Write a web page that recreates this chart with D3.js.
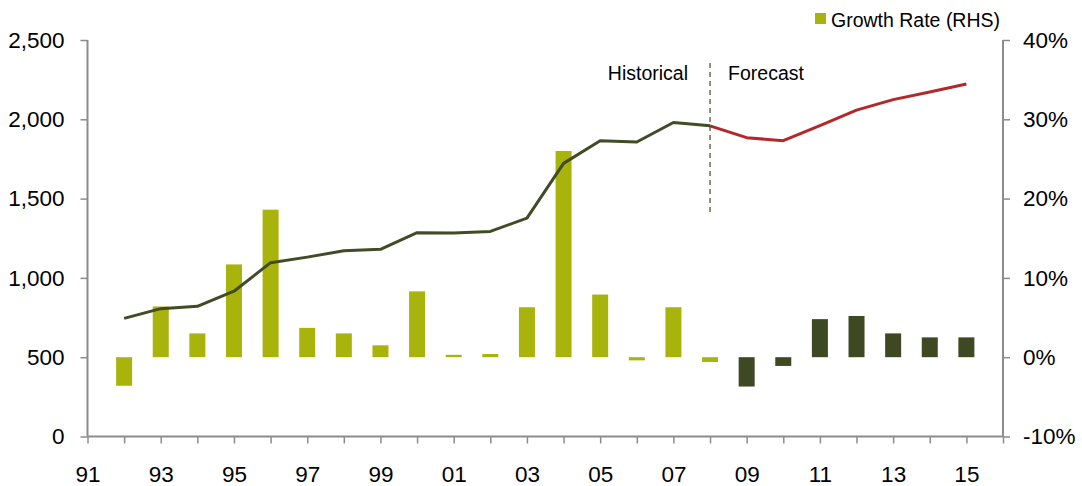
<!DOCTYPE html>
<html>
<head>
<meta charset="utf-8">
<script src="https://cdn.jsdelivr.net/npm/d3@7"></script>
<style>
body { margin:0; background:#fff; }
svg { display:block; font-family:"Liberation Sans", Arial, sans-serif; }
</style>
</head>
<body>
<svg width="1082" height="486"></svg>
<script>
// years 1992..2015
var years = [1992,1993,1994,1995,1996,1997,1998,1999,2000,2001,2002,2003,
             2004,2005,2006,2007,2008,2009,2010,2011,2012,2013,2014,2015];
var level = [745,806,821,916,1096,1131,1171,1180,1285,1283,1293,1377,
             1722,1865,1857,1980,1959,1884,1865,1960,2058,2124,2172,2223];
var growth = [-3.6,6.4,3.0,11.7,18.6,3.7,3.0,1.5,8.3,0.3,0.4,6.3,
              26.0,7.9,-0.4,6.3,-0.6,-3.7,-1.1,4.8,5.2,3.0,2.5,2.5];
var forecastStart = 2008;
var leftTicks = [0,500,1000,1500,2000,2500];
var rightTicks = [-10,0,10,20,30,40];
var xLabelYears = [1991,1993,1995,1997,1999,2001,2003,2005,2007,2009,2011,2013,2015];

var data = years.map(function(y,i){ return {year:y, level:level[i], growth:growth[i]}; });

var svg = d3.select("svg");
var axisColor = "#8c8c8c";

var x = d3.scaleLinear().domain([1991, 2016]).range([87.5, 1003]);
var yL = d3.scaleLinear().domain([0, 2500]).range([436.5, 40]);
var yR = d3.scaleLinear().domain([-10, 40]).range([436.5, 40]);

// bars
svg.append("g").selectAll("rect").data(data)
	.enter().append("rect")
	.attr("x", function(d){ return x(d.year) - 8; })
	.attr("width", 16)
	.attr("y", function(d){ return yR(Math.max(0, d.growth)); })
	.attr("height", function(d){ return Math.abs(yR(d.growth) - yR(0)); })
	.attr("fill", function(d){ return d.year > forecastStart ? "#3e4823" : "#a8b40b"; });

// axes
var gx = svg.append("g").attr("transform", "translate(0," + yL(0) + ")")
	.call(d3.axisBottom(x).tickValues(d3.range(1991, 2017)).tickSize(7)
		.tickFormat(function(d){ return xLabelYears.indexOf(d) >= 0 ? String(d).slice(2) : ""; }));
gx.selectAll("text").attr("y", 45).attr("dy", 0);

var gl = svg.append("g").attr("transform", "translate(" + x(1991) + ",0)")
	.call(d3.axisLeft(yL).tickValues(leftTicks).tickSize(7).tickPadding(16).tickFormat(d3.format(",")));

var gr = svg.append("g").attr("transform", "translate(" + x(2016) + ",0)")
	.call(d3.axisRight(yR).tickValues(rightTicks).tickSize(7).tickPadding(13)
		.tickFormat(function(d){ return d + "%"; }));

[gx, gl, gr].forEach(function(g){
	g.select(".domain").attr("stroke", axisColor).attr("stroke-width", 2);
	g.selectAll(".tick line").attr("stroke", axisColor).attr("stroke-width", 1.5);
	g.selectAll("text").attr("font-size", 22.5).attr("fill", "#000")
		.attr("font-family", "'Liberation Sans', Arial, sans-serif");
});
gx.select(".domain").attr("d", "M" + x(1991) + ",0H" + x(2016));
gl.select(".domain").attr("d", "M0," + yL(0) + "V" + yL(2500));
gr.select(".domain").attr("d", "M0," + yL(0) + "V" + yL(2500));

// lines
var line = d3.line()
	.x(function(d){ return x(d.year); })
	.y(function(d){ return yL(d.level); });

svg.append("path")
	.datum(data.filter(function(d){ return d.year <= forecastStart; }))
	.attr("fill", "none").attr("stroke", "#414b26").attr("stroke-width", 3)
	.attr("stroke-linejoin", "round")
	.attr("d", line);

svg.append("path")
	.datum(data.filter(function(d){ return d.year >= forecastStart; }))
	.attr("fill", "none").attr("stroke", "#b3282a").attr("stroke-width", 3)
	.attr("stroke-linejoin", "round")
	.attr("d", line);

// historical / forecast divider
svg.append("line")
	.attr("x1", x(forecastStart)).attr("x2", x(forecastStart))
	.attr("y1", 63).attr("y2", 213)
	.attr("stroke", "#414b26").attr("stroke-width", 1.2)
	.attr("stroke-dasharray", "5,4");

svg.append("text").attr("x", x(forecastStart) - 22).attr("y", 80)
	.attr("text-anchor", "end").attr("font-size", 19.5).text("Historical");
svg.append("text").attr("x", x(forecastStart) + 18).attr("y", 80)
	.attr("font-size", 19.5).text("Forecast");

// legend
svg.append("rect").attr("x", 815).attr("y", 13).attr("width", 11).attr("height", 11)
	.attr("fill", "#a8b40b");
svg.append("text").attr("x", 831).attr("y", 26.5).attr("font-size", 19.5)
	.text("Growth Rate (RHS)");
</script>
</body>
</html>
